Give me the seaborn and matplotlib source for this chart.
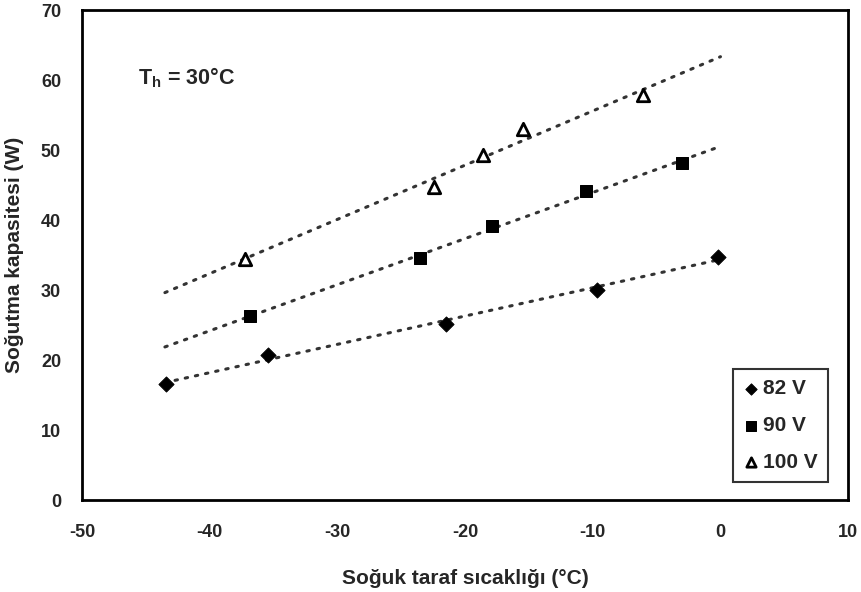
import numpy as np
import pandas as pd
import matplotlib
matplotlib.use("Agg")
import matplotlib.pyplot as plt
import seaborn as sns

# Data
x_82 = [-43.4, -35.4, -21.5, -9.7, -0.2]
y_82 = [16.6, 20.8, 25.2, 30.0, 34.8]
x_90 = [-36.8, -23.5, -17.9, -10.5, -3.0]
y_90 = [26.3, 34.6, 39.1, 44.2, 48.1]
x_100 = [-37.2, -22.4, -18.6, -15.5, -6.1]
y_100 = [34.5, 44.8, 49.3, 53.0, 57.8]
series_labels = ["82 V", "90 V", "100 V"]
trend_range = [-43.5, 0.0]

sns.set_theme(style="white")
plt.rcParams['font.family'] = ['Liberation Sans', 'DejaVu Sans']
plt.rcParams['font.weight'] = 'bold'
plt.rcParams['axes.unicode_minus'] = False

df = pd.DataFrame({
    "x": x_82 + x_90 + x_100,
    "y": y_82 + y_90 + y_100,
    "series": [series_labels[0]] * len(x_82) + [series_labels[1]] * len(x_90) + [series_labels[2]] * len(x_100),
})

fig = plt.figure(figsize=(8.62, 5.92), dpi=100)
ax = fig.add_axes([0.095, 0.155, 0.889, 0.828])

# trend lines
for xs, ys in [(x_82, y_82), (x_90, y_90), (x_100, y_100)]:
    coef = np.polyfit(xs, ys, 1)
    tx = np.array(trend_range)
    ax.plot(tx, np.polyval(coef, tx), color="#333333", lw=2.2,
            linestyle=(0, (0.8, 2.6)), dash_capstyle="round", zorder=2)

markers = {series_labels[0]: "D", series_labels[1]: "s", series_labels[2]: "^"}
sizes = {series_labels[0]: 60, series_labels[1]: 80, series_labels[2]: 80}
for lab in series_labels:
    sub = df[df.series == lab]
    if lab == series_labels[2]:
        sns.scatterplot(data=sub, x="x", y="y", marker="^", s=80, facecolor="white",
                        edgecolor="black", linewidth=2, ax=ax, zorder=3, label=lab)
    else:
        sns.scatterplot(data=sub, x="x", y="y", marker=markers[lab], s=sizes[lab],
                        color="black", edgecolor="black", ax=ax, zorder=3, label=lab)

ax.set_xlim(-50, 10)
ax.set_ylim(0, 70)
ax.set_xticks(np.arange(-50, 11, 10))
ax.set_yticks(np.arange(0, 71, 10))
ax.tick_params(axis="both", labelsize=13, length=3, width=1.2, color="black",
               direction="out")
ax.tick_params(axis="x", pad=14)
ax.tick_params(axis="y", pad=12)
for t in ax.get_xticklabels() + ax.get_yticklabels():
    t.set_fontweight("bold")
for sp in ax.spines.values():
    sp.set_color("black")
    sp.set_linewidth(2)

ax.set_xlabel("Soğuk taraf sıcaklığı (°C)", fontsize=15, fontweight="bold", labelpad=20)
ax.set_ylabel("Soğutma kapasitesi (W)", fontsize=15, fontweight="bold", labelpad=12)

ax.text(-45.6, 60.3, "T$_\\mathregular{h}$ = 30°C", fontsize=15.5, fontweight="bold",
        va="center", ha="left")

leg = ax.legend(loc="lower right", bbox_to_anchor=(0.974, 0.037), frameon=True,
                fancybox=False, edgecolor="black", fontsize=15, handletextpad=0.25,
                borderpad=0.5, labelspacing=0.85, handlelength=0.7, markerscale=0.75,
                borderaxespad=0)
leg.get_frame().set_linewidth(1.5)
for t in leg.get_texts():
    t.set_fontweight("bold")

fig.savefig("out.png", dpi=100)
